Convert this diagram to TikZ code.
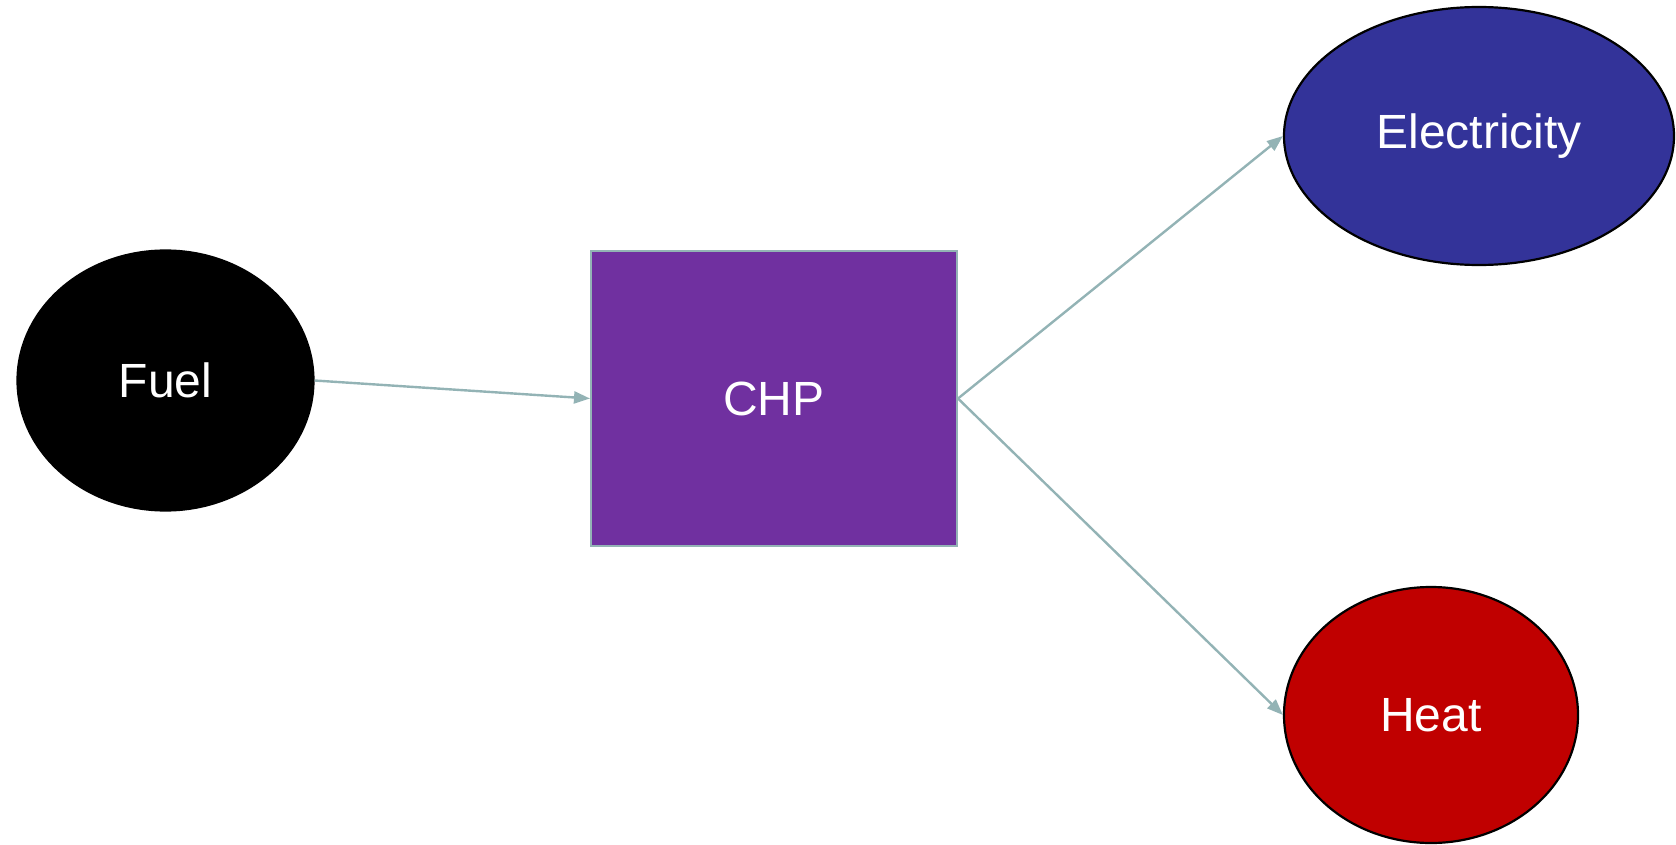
\documentclass[tikz,border=0pt]{standalone}
\usepackage{fontspec}
\setmainfont{Liberation Sans}
\usetikzlibrary{arrows.meta,shapes.geometric}
\definecolor{arrowc}{HTML}{93B3B5}
\definecolor{chpc}{HTML}{7030A0}
\definecolor{elc}{HTML}{333399}
\definecolor{heatc}{HTML}{C00000}
\begin{document}
\begin{tikzpicture}[x=1pt,y=-1pt,
  blob/.style={ellipse,draw=black,line width=2.2pt,inner sep=0pt,text=white,font=\fontsize{48}{52}\selectfont},
  boxnode/.style={rectangle,draw=arrowc,line width=2pt,fill=chpc,inner sep=0pt,text=white,font=\fontsize{48}{52}\selectfont},
  flow/.style={draw=arrowc,line width=2.4pt,-{Triangle[length=16pt,width=12pt]}}]
\useasboundingbox (0,0) rectangle (1676,845);
\node[blob,fill=black,minimum width=296pt,minimum height=260pt] (fuel) at (165.5,380.5) {Fuel};
\node[boxnode,minimum width=366pt,minimum height=295pt] (chp) at (774,398.5) {CHP};
\node[blob,fill=elc,minimum width=390pt,minimum height=258pt] (elec) at (1479,136) {Electricity};
\node[blob,fill=heatc,minimum width=294pt,minimum height=256pt] (heat) at (1431,715) {Heat};
\draw[flow] (fuel.east) -- (chp.west);
\draw[flow] (chp.east) -- (elec.west);
\draw[flow] (chp.east) -- (heat.west);
\end{tikzpicture}
\end{document}
